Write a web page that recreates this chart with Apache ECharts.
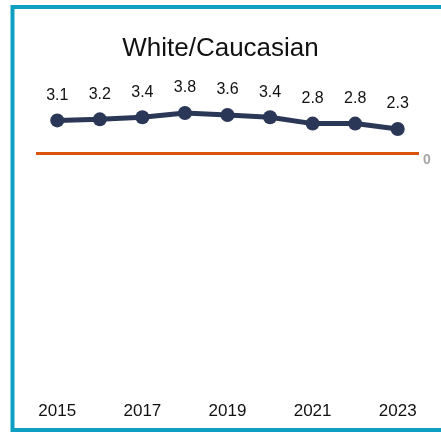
<!DOCTYPE html>
<html><head><meta charset="utf-8">
<script src="https://cdn.jsdelivr.net/npm/echarts@6/dist/echarts.min.js"></script>
<style>html,body{margin:0;padding:0;background:#fff}#c{width:441px;height:436px}</style>
</head><body><div id="c"></div>
<script>
const titleText = 'White/Caucasian';
const years = ['2015','2016','2017','2018','2019','2020','2021','2022','2023'];
const values = [3.1, 3.2, 3.4, 3.8, 3.6, 3.4, 2.8, 2.8, 2.3];
const yTickLabels = ['0'];

const chart = echarts.init(document.getElementById('c'), null, {renderer:'canvas'});
chart.setOption({
  animation: false,
  backgroundColor: '#fff',
  textStyle: {fontFamily: 'Liberation Sans, Arial, sans-serif'},
  title: {
    text: titleText, left: 'center', top: 31,
    textStyle: {fontSize: 26, fontWeight: 'normal', color: '#111', fontFamily: 'Liberation Sans, Arial, sans-serif'}
  },
  graphic: [{
    type: 'rect', silent: true, z: 100,
    shape: {x: 12.5, y: 7, width: 520, height: 423},
    style: {fill: 'none', stroke: '#0f9fc2', lineWidth: 4}
  }],
  grid: {left: 36, right: 22, top: 57.5, bottom: 48, containLabel: false},
  xAxis: {
    type: 'category', data: years, boundaryGap: true,
    axisLine: {show: false}, axisTick: {show: false},
    axisLabel: {interval: 1, margin: 15, fontSize: 17, color: '#111', fontFamily: 'Liberation Sans, Arial, sans-serif'}
  },
  yAxis: {
    type: 'value', position: 'right', min: -22, max: 9, interval: 11,
    splitLine: {show: false}, axisLine: {show: false}, axisTick: {show: false},
    axisLabel: {
      margin: 4, fontSize: 14, fontWeight: 'bold', color: '#a6a6a6', verticalAlign: 'top', lineHeight: 14,
      showMinLabel: false, showMaxLabel: false,
      formatter: v => (yTickLabels.indexOf(String(v)) >= 0 ? String(v) : '')
    }
  },
  series: [{
    type: 'line', data: values,
    lineStyle: {color: '#2b3757', width: 5},
    itemStyle: {color: '#2b3757'},
    symbol: 'circle', symbolSize: 14,
    label: {show: true, position: 'top', distance: 10, fontSize: 16, color: '#111',
      fontFamily: 'Liberation Sans, Arial, sans-serif', formatter: p => p.value.toFixed(1)},
    markLine: {
      silent: true, symbol: ['none','none'], label: {show: false},
      lineStyle: {color: '#d9540a', width: 3, type: 'solid'},
      data: [{yAxis: 0}]
    }
  }]
});
</script></body></html>
